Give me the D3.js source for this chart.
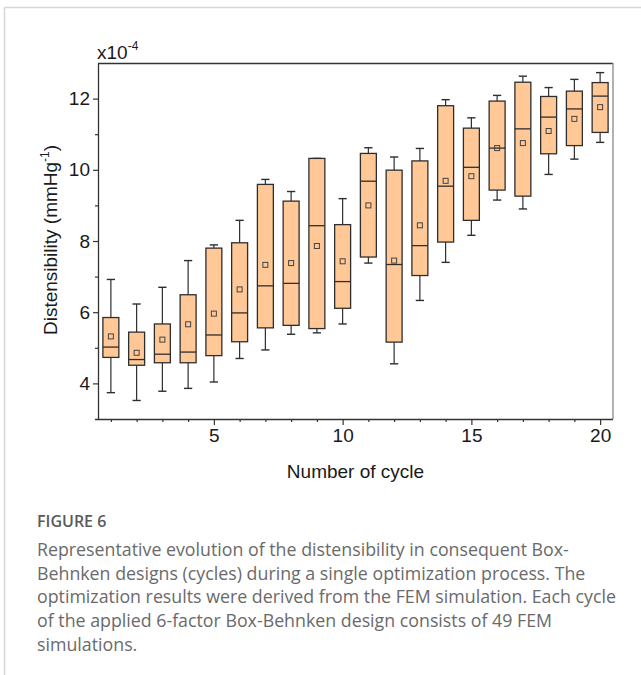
<!DOCTYPE html>
<html>
<head>
<meta charset="utf-8">
<script src="https://cdn.jsdelivr.net/npm/d3@7"></script>
<style>
  body { margin: 0; background: #fff; }
  svg { display: block; }
</style>
</head>
<body>
<script>
"use strict";
// values (x10^-4 mmHg^-1)
const cycles = d3.range(1, 21)
const whiskerLow  = [3.74, 3.52, 3.78, 3.86, 4.04, 4.70, 4.94, 5.38, 5.42, 5.67, 7.38, 4.55, 6.33, 7.40, 8.16, 9.15, 8.90, 9.87, 10.30, 10.77]
const q1          = [4.73, 4.51, 4.58, 4.58, 4.78, 5.17, 5.56, 5.63, 5.54, 6.11, 7.55, 5.16, 7.03, 7.97, 8.58, 9.43, 9.26, 10.45, 10.68, 11.05]
const median      = [5.02, 4.67, 4.82, 4.88, 5.36, 5.98, 6.74, 6.81, 8.43, 6.86, 9.68, 7.34, 7.87, 9.54, 10.07, 10.61, 11.15, 11.48, 11.71, 12.07]
const q3          = [5.85, 5.44, 5.67, 6.49, 7.80, 7.95, 9.59, 9.12, 10.32, 8.46, 10.46, 9.99, 10.25, 11.80, 11.17, 11.93, 12.46, 12.06, 12.21, 12.45]
const whiskerHigh = [6.92, 6.23, 6.70, 7.45, 7.89, 8.58, 9.73, 9.39, 10.32, 9.19, 10.62, 10.36, 10.60, 11.97, 11.46, 12.09, 12.63, 12.31, 12.54, 12.73]
const means       = [5.32, 4.86, 5.23, 5.66, 5.96, 6.64, 7.33, 7.38, 7.86, 7.43, 9.00, 7.45, 8.44, 9.69, 9.82, 10.61, 10.75, 11.09, 11.43, 11.76]
const xTicks = [5, 10, 15, 20]
const yTicks = [4, 6, 8, 10, 12]

const captionTitle = "FIGURE 6"
const captionLines = [
    "Representative evolution of the distensibility in consequent Box-",
    "Behnken designs (cycles) during a single optimization process. The",
    "optimization results were derived from the FEM simulation. Each cycle",
    "of the applied 6-factor Box-Behnken design consists of 49 FEM",
    "simulations."
]

const W = 641, H = 675
const plot = { left: 98, right: 613, top: 63, bottom: 419 }
const chartFont = "'Liberation Sans', Arial, sans-serif"
const fs = 19

const svg = d3.select("body").append("svg")
    .attr("width", W)
    .attr("height", H)

// page frame (light grey lines on top and left)
svg.append("path")
    .attr("d", `M4.5,${H} V7.5 H${W}`)
    .attr("fill", "none")
    .attr("stroke", "#d6d6d6")
    .attr("stroke-width", 1.5)

const x = d3.scaleLinear().domain([0.5, 20.5]).range([plot.left, plot.right])
const y = d3.scaleLinear().domain([3, 13]).range([plot.bottom, plot.top])

// plot frame top + right
svg.append("line")
    .attr("x1", plot.left).attr("x2", plot.right)
    .attr("y1", plot.top + 0.5).attr("y2", plot.top + 0.5)
    .attr("stroke", "#333").attr("stroke-width", 1.3)
svg.append("line")
    .attr("x1", plot.right).attr("x2", plot.right)
    .attr("y1", plot.top).attr("y2", plot.bottom)
    .attr("stroke", "#888").attr("stroke-width", 1.3)

// minor ticks first
const yMinor = d3.axisLeft(y).tickValues([5, 7, 9, 11]).tickSize(3).tickFormat("")
svg.append("g")
    .attr("transform", `translate(${plot.left},0)`)
    .call(yMinor)
    .call(g => g.select(".domain").remove())
    .call(g => g.selectAll("line").attr("stroke", "#333").attr("stroke-width", 1.2))

const xMinor = d3.axisBottom(x).tickValues(cycles.filter(c => c % 5 !== 0)).tickSize(3).tickFormat("")
svg.append("g")
    .attr("transform", `translate(0,${plot.bottom})`)
    .call(xMinor)
    .call(g => g.select(".domain").remove())
    .call(g => g.selectAll("line").attr("stroke", "#333").attr("stroke-width", 1.2))

// major axes
const yAxis = d3.axisLeft(y).tickValues(yTicks).tickSize(5).tickSizeOuter(0).tickPadding(3)
svg.append("g")
    .attr("transform", `translate(${plot.left},0)`)
    .call(yAxis)
    .call(g => g.select(".domain").attr("stroke", "#333").attr("stroke-width", 1.3))
    .call(g => g.selectAll("line").attr("stroke", "#333").attr("stroke-width", 1.2))
    .call(g => g.selectAll("text")
        .attr("font-family", chartFont).attr("font-size", fs).attr("fill", "#1a1a1a"))

const xAxis = d3.axisBottom(x).tickValues(xTicks).tickSize(6).tickSizeOuter(0).tickPadding(4)
svg.append("g")
    .attr("transform", `translate(0,${plot.bottom})`)
    .call(xAxis)
    .call(g => g.select(".domain")
        .attr("d", `M${plot.left - 3},0.5H${plot.right}`)
        .attr("stroke", "#333").attr("stroke-width", 1.3))
    .call(g => g.selectAll("line").attr("stroke", "#333").attr("stroke-width", 1.2))
    .call(g => g.selectAll("text")
        .attr("font-family", chartFont).attr("font-size", fs).attr("fill", "#1a1a1a"))

// axis titles
svg.append("text")
    .attr("x", (plot.left + plot.right) / 2)
    .attr("y", 478)
    .attr("text-anchor", "middle")
    .attr("font-family", chartFont)
    .attr("font-size", fs)
    .attr("fill", "#1a1a1a")
    .text("Number of cycle")

const yTitle = svg.append("text")
    .attr("transform", `translate(57,240) rotate(-90)`)
    .attr("text-anchor", "middle")
    .attr("font-family", chartFont)
    .attr("font-size", fs)
    .attr("fill", "#1a1a1a")
yTitle.append("tspan").text("Distensibility (mmHg")
yTitle.append("tspan").attr("font-size", 12).attr("dy", -8).text("-1")
yTitle.append("tspan").attr("dy", 8).text(")")

// exponent label
const expo = svg.append("text")
    .attr("x", 97)
    .attr("y", 59)
    .attr("font-family", chartFont)
    .attr("font-size", fs)
    .attr("fill", "#1a1a1a")
expo.append("tspan").text("x10")
expo.append("tspan").attr("font-size", 12).attr("dy", -9).text("-4")

// boxes
const boxes = cycles.map((c, i) => ({
    c: c, lo: whiskerLow[i], q1: q1[i], med: median[i], q3: q3[i], hi: whiskerHigh[i], mean: means[i]
}))
const halfBox = 0.31, halfCap = 0.16
const stroke = "#2e2e2e"

const g = svg.append("g")
const box = g.selectAll(".box").data(boxes).enter().append("g").attr("class", "box")

// whiskers
box.append("line")
    .attr("x1", d => x(d.c)).attr("x2", d => x(d.c))
    .attr("y1", d => y(d.hi)).attr("y2", d => y(d.q3))
    .attr("stroke", stroke).attr("stroke-width", 1.2)
box.append("line")
    .attr("x1", d => x(d.c)).attr("x2", d => x(d.c))
    .attr("y1", d => y(d.q1)).attr("y2", d => y(d.lo))
    .attr("stroke", stroke).attr("stroke-width", 1.2)
box.append("line")
    .attr("x1", d => x(d.c - halfCap)).attr("x2", d => x(d.c + halfCap))
    .attr("y1", d => y(d.hi)).attr("y2", d => y(d.hi))
    .attr("stroke", stroke).attr("stroke-width", 1.4)
box.append("line")
    .attr("x1", d => x(d.c - halfCap)).attr("x2", d => x(d.c + halfCap))
    .attr("y1", d => y(d.lo)).attr("y2", d => y(d.lo))
    .attr("stroke", stroke).attr("stroke-width", 1.4)

box.append("rect")
    .attr("x", d => x(d.c - halfBox))
    .attr("width", d => x(d.c + halfBox) - x(d.c - halfBox))
    .attr("y", d => y(d.q3))
    .attr("height", d => y(d.q1) - y(d.q3))
    .attr("fill", "#ffc896")
    .attr("stroke", stroke)
    .attr("stroke-width", 1.3)

box.append("line")
    .attr("x1", d => x(d.c - halfBox)).attr("x2", d => x(d.c + halfBox))
    .attr("y1", d => y(d.med)).attr("y2", d => y(d.med))
    .attr("stroke", stroke).attr("stroke-width", 1.3)

box.append("rect")
    .attr("x", d => x(d.c) - 2.5)
    .attr("y", d => y(d.mean) - 2.5)
    .attr("width", 5).attr("height", 5)
    .attr("fill", "none")
    .attr("stroke", "#444")
    .attr("stroke-width", 1)

// caption
const capFont = "'Open Sans', Lato, sans-serif"
svg.append("text")
    .attr("x", 37)
    .attr("y", 527)
    .attr("font-family", capFont)
    .attr("font-size", 16)
    .attr("font-weight", 600)
    .attr("fill", "#5a5a5a")
    .text(captionTitle)

svg.append("g").selectAll("text")
    .data(captionLines)
    .enter()
    .append("text")
    .attr("x", 37)
    .attr("y", (d, i) => 556 + i * 23.7)
    .attr("font-family", capFont)
    .attr("font-size", 17.8)
    .attr("fill", "#6a6a6a")
    .text(d => d)
</script>
</body>
</html>
